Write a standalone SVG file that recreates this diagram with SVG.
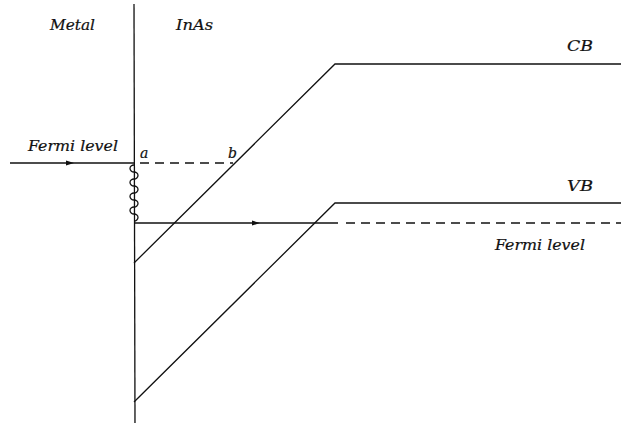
<svg xmlns="http://www.w3.org/2000/svg" width="621" height="423" viewBox="0 0 621 423">
<style>
.ln{stroke:#111;stroke-width:1.3;fill:none}
.ds{stroke:#111;stroke-width:1.3;fill:none;stroke-dasharray:9,6}
.t{font-family:'DejaVu Serif',serif;font-style:italic;font-size:14px;fill:#111;stroke:#111;stroke-width:0.2}
</style>
<defs>
<marker id="ar" markerWidth="8" markerHeight="6" refX="4" refY="3" orient="auto" markerUnits="userSpaceOnUse">
<path d="M0,0.5 L8,3 L0,5.5 Z" fill="#111"/>
</marker>
</defs>
<rect width="621" height="423" fill="#fff"/>
<g id="labels">
<text class="t" x="50" y="30" textLength="45" lengthAdjust="spacingAndGlyphs">Metal</text>
<text class="t" x="176" y="30" textLength="37" lengthAdjust="spacingAndGlyphs">InAs</text>
<text class="t" x="28" y="151" textLength="90" lengthAdjust="spacingAndGlyphs">Fermi level</text>
<text class="t" x="495" y="250" textLength="90" lengthAdjust="spacingAndGlyphs">Fermi level</text>
<text class="t" x="567" y="51" textLength="26" lengthAdjust="spacingAndGlyphs">CB</text>
<text class="t" x="567" y="191" textLength="26" lengthAdjust="spacingAndGlyphs">VB</text>
<text class="t" x="140" y="158">a</text>
<text class="t" x="228" y="158">b</text>
</g>
<g id="interface">
<line class="ln" x1="134" y1="4" x2="135" y2="423"/>
</g>
<g id="bands">
<path class="ln" d="M134,263 L335,64 L621,64"/>
<path class="ln" d="M134,402 L335,203 L621,203"/>
</g>
<g id="connectors">
<line class="ln" x1="10" y1="163" x2="70" y2="163" marker-end="url(#ar)"/>
<line class="ln" x1="68" y1="163" x2="134" y2="163"/>
<line class="ds" x1="140" y1="163" x2="233" y2="163"/>
<path class="ln" d="M134,165 a4,3.5 0 0 0 0,7 a4,3.5 0 0 1 0,7 a4,3.5 0 0 0 0,7 a4,3.5 0 0 1 0,7 a4,3.5 0 0 0 0,7 a4,3.5 0 0 1 0,7 a4,3.5 0 0 0 0,7 a4,3.5 0 0 1 0,7"/>
<line class="ln" x1="134" y1="223" x2="256" y2="223" marker-end="url(#ar)"/>
<line class="ln" x1="254" y1="223" x2="338" y2="223"/>
<line class="ds" x1="346" y1="223" x2="621" y2="223"/>
</g>
</svg>
